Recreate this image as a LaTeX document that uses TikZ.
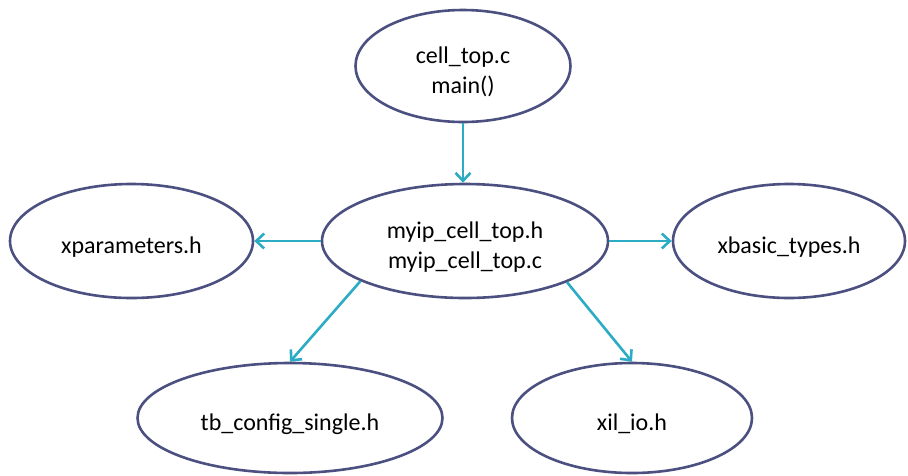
\documentclass[tikz,border=0pt]{standalone}
\usepackage{fontspec}
\setmainfont{Carlito}
\usetikzlibrary{shapes.geometric,arrows.meta}
\definecolor{ringcol}{RGB}{75,80,128}
\definecolor{linkcol}{RGB}{43,172,196}
\tikzset{
  filenode/.style={ellipse, draw=ringcol, line width=2.6pt, inner sep=0pt},
  filename/.style={label={[align=center, inner sep=0pt, yshift=-6pt,
    font=\fontsize{24}{29.5}\selectfont]center:#1}},
  link/.style={draw=linkcol, line width=2.6pt,
    -{Straight Barb[length=8pt,width=15pt,line width=2.6pt]}}
}
\begin{document}
\begin{tikzpicture}[x=1pt,y=-1pt]
\useasboundingbox (0,0) rectangle (908,475);
% files
\node[filenode, minimum width=215pt, minimum height=112pt,
  filename={cell\_top.c\\main()}] (main) at (463,66) {};
\node[filenode, minimum width=286pt, minimum height=114pt,
  filename={myip\_cell\_top.h\\myip\_cell\_top.c}] (ip) at (465,241) {};
\node[filenode, minimum width=243pt, minimum height=114pt,
  filename={xparameters.h}] (xpar) at (131.5,241) {};
\node[filenode, minimum width=232pt, minimum height=114pt,
  filename={xbasic\_types.h}] (xbt) at (789,241) {};
\node[filenode, minimum width=305pt, minimum height=110pt,
  filename={tb\_config\_single.h}] (tbc) at (290,418) {};
\node[filenode, minimum width=240pt, minimum height=110pt,
  filename={xil\_io.h}] (xio) at (632,418) {};
% includes
\draw[link] (main.south) -- (main.south |- ip.north);
\draw[link] (ip.west) -- (xpar.east);
\draw[link] (ip.east) -- (xbt.west);
\draw[link] (ip.201.7) -- (tbc.north);
\draw[link] (ip.338) -- (xio.north);
\end{tikzpicture}
\end{document}
